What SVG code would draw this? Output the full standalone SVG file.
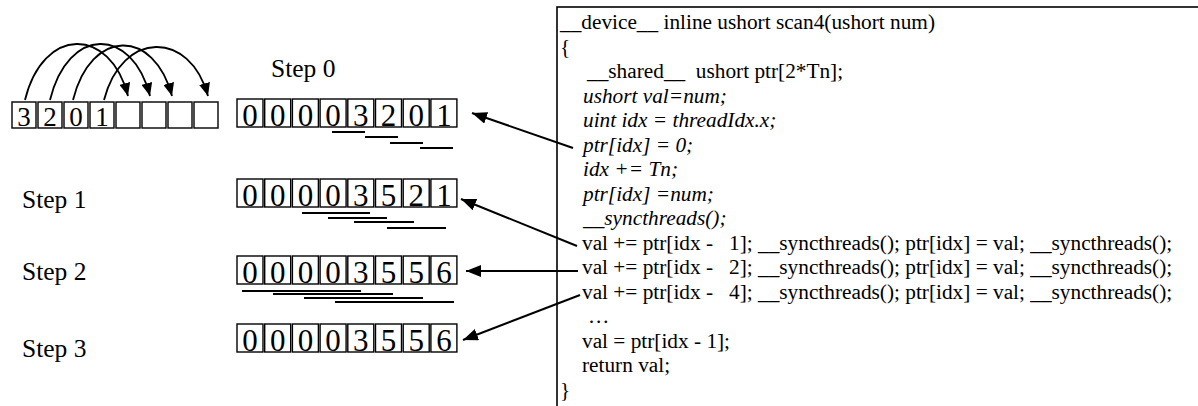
<svg xmlns="http://www.w3.org/2000/svg" width="1198" height="406" viewBox="0 0 1198 406">
  <style>
    text { font-family: "Liberation Serif", "Times New Roman", serif; fill: #000; }
    .cell { fill: #fff; stroke: #000; stroke-width: 1.4; }
    .dig { font-size: 31px; text-anchor: middle; }
    .dig-s { font-size: 27px; text-anchor: middle; }
    .lbl { font-size: 25.5px; }
    .code { font-size: 21.3px; white-space: pre; }
    .it { font-style: italic; }
    .bar { stroke: #000; stroke-width: 2; }
    .conn { fill: none; stroke: #000; stroke-width: 2; }
    .arc { fill: none; stroke: #000; stroke-width: 1.8; }
  </style>
  <defs>
    <marker id="head" markerUnits="userSpaceOnUse" markerWidth="16" markerHeight="12" refX="15" refY="6" orient="auto">
      <path d="M0,0 L15,6 L0,12 Z" fill="#000"/>
    </marker>
    <marker id="head-s" markerUnits="userSpaceOnUse" markerWidth="14" markerHeight="11" refX="13" refY="5.5" orient="auto">
      <path d="M0,0 L13,5.5 L0,11 Z" fill="#000"/>
    </marker>
    <!-- one row of eight cells, reused by every step -->
    <g id="cells8">
      <rect class="cell" x="0" y="0" width="26" height="28"/>
      <rect class="cell" x="27.7" y="0" width="26" height="28"/>
      <rect class="cell" x="55.4" y="0" width="26" height="28"/>
      <rect class="cell" x="83.1" y="0" width="26" height="28"/>
      <rect class="cell" x="110.8" y="0" width="26" height="28"/>
      <rect class="cell" x="138.5" y="0" width="26" height="28"/>
      <rect class="cell" x="166.2" y="0" width="26" height="28"/>
      <rect class="cell" x="193.9" y="0" width="26" height="28"/>
    </g>
  </defs>

  <!-- input array with the shift arcs -->
  <g id="input-array">
    <rect class="cell" x="12" y="102" width="24" height="26"/>
    <rect class="cell" x="38" y="102" width="24" height="26"/>
    <rect class="cell" x="64" y="102" width="24" height="26"/>
    <rect class="cell" x="90" y="102" width="24" height="26"/>
    <rect class="cell" x="116" y="102" width="24" height="26"/>
    <rect class="cell" x="142" y="102" width="24" height="26"/>
    <rect class="cell" x="168" y="102" width="24" height="26"/>
    <rect class="cell" x="194" y="102" width="24" height="26"/>
    <text class="dig-s" x="24" y="126">3</text>
    <text class="dig-s" x="50" y="126">2</text>
    <text class="dig-s" x="76" y="126">0</text>
    <text class="dig-s" x="102" y="126">1</text>
  </g>

  <g id="step0-label"><text class="lbl" x="271" y="77">Step 0</text></g>
  <g id="step1-label"><text class="lbl" x="22" y="208">Step 1</text></g>
  <g id="step2-label"><text class="lbl" x="22" y="280">Step 2</text></g>
  <g id="step3-label"><text class="lbl" x="22" y="357">Step 3</text></g>

  <!-- step 0 row -->
  <g id="step0-row">
    <g transform="translate(237,99)">
      <use href="#cells8"/>
      <text class="dig" x="13" y="27">0</text>
      <text class="dig" x="40.7" y="27">0</text>
      <text class="dig" x="68.4" y="27">0</text>
      <text class="dig" x="96.1" y="27">0</text>
      <text class="dig" x="123.8" y="27">3</text>
      <text class="dig" x="151.5" y="27">2</text>
      <text class="dig" x="179.2" y="27">0</text>
      <text class="dig" x="206.9" y="27">1</text>
    </g>
    <line class="bar" x1="332" y1="132" x2="365" y2="132"/>
    <line class="bar" x1="365" y1="137" x2="398" y2="137"/>
    <line class="bar" x1="390" y1="143" x2="423" y2="143"/>
    <line class="bar" x1="420" y1="148" x2="453" y2="148"/>
  </g>

  <!-- step 1 row -->
  <g id="step1-row">
    <g transform="translate(237,179)">
      <use href="#cells8"/>
      <text class="dig" x="13" y="27">0</text>
      <text class="dig" x="40.7" y="27">0</text>
      <text class="dig" x="68.4" y="27">0</text>
      <text class="dig" x="96.1" y="27">0</text>
      <text class="dig" x="123.8" y="27">3</text>
      <text class="dig" x="151.5" y="27">5</text>
      <text class="dig" x="179.2" y="27">2</text>
      <text class="dig" x="206.9" y="27">1</text>
    </g>
    <line class="bar" x1="302" y1="213" x2="370" y2="213"/>
    <line class="bar" x1="328" y1="218" x2="387" y2="218"/>
    <line class="bar" x1="354" y1="222" x2="414" y2="222"/>
    <line class="bar" x1="387" y1="228" x2="446" y2="228"/>
  </g>

  <!-- step 2 row -->
  <g id="step2-row">
    <g transform="translate(237,256)">
      <use href="#cells8"/>
      <text class="dig" x="13" y="27">0</text>
      <text class="dig" x="40.7" y="27">0</text>
      <text class="dig" x="68.4" y="27">0</text>
      <text class="dig" x="96.1" y="27">0</text>
      <text class="dig" x="123.8" y="27">3</text>
      <text class="dig" x="151.5" y="27">5</text>
      <text class="dig" x="179.2" y="27">5</text>
      <text class="dig" x="206.9" y="27">6</text>
    </g>
    <line class="bar" x1="242" y1="291" x2="361" y2="291"/>
    <line class="bar" x1="273" y1="294" x2="393" y2="294"/>
    <line class="bar" x1="304" y1="298" x2="423" y2="298"/>
    <line class="bar" x1="335" y1="302" x2="454" y2="302"/>
  </g>

  <!-- step 3 row -->
  <g id="step3-row">
    <g transform="translate(237,324)">
      <use href="#cells8"/>
      <text class="dig" x="13" y="27">0</text>
      <text class="dig" x="40.7" y="27">0</text>
      <text class="dig" x="68.4" y="27">0</text>
      <text class="dig" x="96.1" y="27">0</text>
      <text class="dig" x="123.8" y="27">3</text>
      <text class="dig" x="151.5" y="27">5</text>
      <text class="dig" x="179.2" y="27">5</text>
      <text class="dig" x="206.9" y="27">6</text>
    </g>
  </g>

  <!-- scan4 source listing -->
  <g id="code-box">
    <rect x="557" y="7" width="700" height="500" fill="none" stroke="#000" stroke-width="1.6"/>
    <text class="code" x="560" y="29">__device__ inline ushort scan4(ushort num)</text>
    <text class="code" x="560" y="53.5">{</text>
    <text class="code" x="587" y="78">__shared__  ushort ptr[2*Tn];</text>
    <text class="code it" x="583" y="102.5">ushort val=num;</text>
    <text class="code it" x="583" y="127">uint idx = threadIdx.x;</text>
    <text class="code it" x="583" y="151.5">ptr[idx] = 0;</text>
    <text class="code it" x="583" y="176">idx += Tn;</text>
    <text class="code it" x="583" y="200.5">ptr[idx] =num;</text>
    <text class="code it" x="583" y="225">__syncthreads();</text>
    <text class="code" x="582" y="249.5">val += ptr[idx -   1]; __syncthreads(); ptr[idx] = val; __syncthreads();</text>
    <text class="code" x="582" y="274">val += ptr[idx -   2]; __syncthreads(); ptr[idx] = val; __syncthreads();</text>
    <text class="code" x="582" y="298.5">val += ptr[idx -   4]; __syncthreads(); ptr[idx] = val; __syncthreads();</text>
    <text class="code" x="588" y="323">…</text>
    <text class="code" x="582" y="347.5">val = ptr[idx - 1];</text>
    <text class="code" x="582" y="372">return val;</text>
    <text class="code" x="560" y="396.5">}</text>
  </g>

  <g id="connectors">
    <!-- shift-by-four arcs over the input array -->
    <path class="arc" d="M25,100 C43,26 110,26 128,96" marker-end="url(#head-s)"/>
    <path class="arc" d="M50,100 C68,26 132,26 150,96" marker-end="url(#head-s)"/>
    <path class="arc" d="M73,100 C91,28 154,28 172,96" marker-end="url(#head-s)"/>
    <path class="arc" d="M104,100 C122,30 190,30 208,96" marker-end="url(#head-s)"/>
    <!-- code lines to the array states they produce -->
    <line class="conn" x1="573" y1="148" x2="472" y2="113" marker-end="url(#head)"/>
    <line class="conn" x1="577" y1="246" x2="461" y2="199" marker-end="url(#head)"/>
    <line class="conn" x1="578" y1="271" x2="466" y2="271" marker-end="url(#head)"/>
    <line class="conn" x1="580" y1="295" x2="463" y2="340" marker-end="url(#head)"/>
  </g>
</svg>
